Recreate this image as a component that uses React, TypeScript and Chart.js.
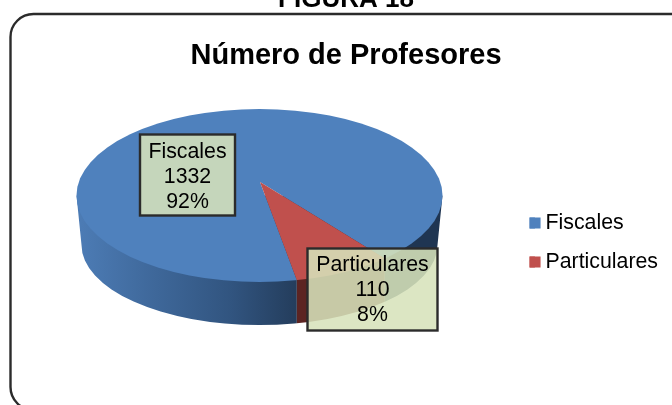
import React, { useEffect, useRef } from "react";
import { Chart, registerables } from "chart.js";

Chart.register(...registerables);

const categories = ["Fiscales", "Particulares"];
const teacherCounts = [1332, 110];
const percentLabels = ["92%", "8%"];
const sliceColors = ["#4F81BD", "#C0504D"];
const figureHeading = "FIGURA 18";
const chartTitle = "Número de Profesores";

const FONT = '"Liberation Sans", Arial, sans-serif';
const TOP = { cx: 259.5, cy: 195.5, rx: 183, ry: 86.5 };
const BASE = { cx: 259.5, cy: 245, rx: 178, ry: 80 };
const APEX = { x: 260, y: 182 };
const SQUASH = 0.47;
const LEGEND_FIRST_Y = 223;
const LEGEND_SWATCH = 11;
const LABEL_BOXES = [
  { x: 140, y: 134.5, w: 95, h: 81, first: 18 },
  { x: 307.5, y: 248.5, w: 130, h: 82, first: 17 },
];

function ellipseHit(angle: number) {
  const dx = Math.cos(angle);
  const dy = Math.sin(angle) * SQUASH;
  const ox = APEX.x - TOP.cx;
  const oy = APEX.y - TOP.cy;
  const a = (dx * dx) / (TOP.rx * TOP.rx) + (dy * dy) / (TOP.ry * TOP.ry);
  const b = 2 * ((ox * dx) / (TOP.rx * TOP.rx) + (oy * dy) / (TOP.ry * TOP.ry));
  const c = (ox * ox) / (TOP.rx * TOP.rx) + (oy * oy) / (TOP.ry * TOP.ry) - 1;
  const t = (-b + Math.sqrt(b * b - 4 * a * c)) / (2 * a);
  return APEX.x + dx * t;
}

function wallPath(ctx: CanvasRenderingContext2D) {
  ctx.beginPath();
  ctx.moveTo(TOP.cx - TOP.rx, TOP.cy);
  ctx.lineTo(BASE.cx - BASE.rx, BASE.cy);
  ctx.ellipse(BASE.cx, BASE.cy, BASE.rx, BASE.ry, 0, Math.PI, 0, true);
  ctx.lineTo(TOP.cx + TOP.rx, TOP.cy);
  ctx.closePath();
}

const piePlugin = {
  id: "tiltedPie",
  afterUpdate(chart: any) {
    const leg = chart.legend;
    const h0 = leg.legendHitBoxes[0];
    const d = LEGEND_FIRST_Y - (h0.top + h0.height / 2);
    leg.top += d;
    leg.bottom += d;
    leg.legendHitBoxes.forEach((h: any) => {
      h.top += d;
    });
  },
  beforeDraw(chart: any) {
    const { ctx } = chart;
    ctx.save();
    ctx.fillStyle = "#FFFFFF";
    ctx.fillRect(0, 0, 672, 405);
    ctx.strokeStyle = "#2B2B2B";
    ctx.lineWidth = 2.4;
    ctx.beginPath();
    ctx.roundRect(10.5, 14, 700, 396, 23);
    ctx.stroke();
    ctx.fillStyle = "#000000";
    ctx.font = `bold 26px ${FONT}`;
    ctx.textAlign = "center";
    ctx.textBaseline = "alphabetic";
    ctx.fillText(figureHeading, 346, 7);
    ctx.restore();
  },
  beforeDatasetsDraw(chart: any) {
    const { ctx } = chart;
    const arcs = chart.getDatasetMeta(0).data;
    const blueEnd = ellipseHit(arcs[1].startAngle);
    const redEnd = ellipseHit(arcs[1].endAngle);
    const left = BASE.cx - BASE.rx;
    const right = TOP.cx + TOP.rx;
    ctx.save();
    wallPath(ctx);
    ctx.clip();
    const g = ctx.createLinearGradient(left, 0, redEnd, 0);
    g.addColorStop(0, "#4C7BB4");
    g.addColorStop(0.35, "#3E6799");
    g.addColorStop(0.7, "#31547F");
    g.addColorStop(1, "#243D5C");
    ctx.fillStyle = g;
    ctx.fillRect(left - 6, TOP.cy, redEnd - left + 6, 160);
    ctx.fillStyle = "#5C2422";
    ctx.fillRect(redEnd, TOP.cy, blueEnd - redEnd, 160);
    ctx.fillStyle = "#1F3552";
    ctx.fillRect(blueEnd, TOP.cy, right - blueEnd + 2, 160);
    ctx.restore();

    ctx.save();
    ctx.beginPath();
    ctx.ellipse(TOP.cx, TOP.cy, TOP.rx, TOP.ry, 0, 0, Math.PI * 2);
    ctx.clip();
    const c = arcs[0];
    ctx.translate(APEX.x, APEX.y);
    ctx.scale(1, SQUASH);
    ctx.translate(-c.x, -c.y);
  },
  afterDatasetsDraw(chart: any) {
    const { ctx } = chart;
    ctx.restore();
    ctx.save();
    ctx.font = `21.3px ${FONT}`;
    ctx.textAlign = "center";
    ctx.textBaseline = "middle";
    LABEL_BOXES.forEach((b, i) => {
      ctx.fillStyle = "rgba(215, 226, 186, 0.87)";
      ctx.fillRect(b.x, b.y, b.w, b.h);
      ctx.strokeStyle = "#2B2B2B";
      ctx.lineWidth = 2.4;
      ctx.strokeRect(b.x, b.y, b.w, b.h);
      ctx.fillStyle = "#000000";
      const mid = b.x + b.w / 2;
      const lines = [categories[i], String(teacherCounts[i]), percentLabels[i]];
      lines.forEach((t, j) => ctx.fillText(t, mid, b.y + b.first + j * 25));
    });
    ctx.restore();
  },
  afterDraw(chart: any) {
    const { ctx } = chart;
    ctx.save();
    chart.legend.legendHitBoxes.forEach((h: any, i: number) => {
      ctx.fillStyle = sliceColors[i];
      ctx.fillRect(h.left, h.top + h.height / 2 - LEGEND_SWATCH / 2, LEGEND_SWATCH, LEGEND_SWATCH);
    });
    ctx.restore();
  },
};

export default function App() {
  const ref = useRef<HTMLCanvasElement>(null);
  useEffect(() => {
    const chart = new Chart(ref.current!, {
      type: "pie",
      data: {
        labels: categories,
        datasets: [{ data: teacherCounts, backgroundColor: sliceColors, borderWidth: 0 }],
      },
      plugins: [piePlugin],
      options: {
        animation: false,
        responsive: false,
        radius: 280,
        rotation: 170,
        layout: { padding: { left: 24, right: 4, top: 0, bottom: 54 } },
        plugins: {
          tooltip: { enabled: false },
          title: {
            display: true,
            text: chartTitle,
            color: "#000000",
            font: { family: FONT, size: 29, weight: "bold" },
            padding: { top: 39, bottom: 10 },
          },
          legend: {
            position: "right",
            labels: {
              color: "#000000",
              font: { family: FONT, size: 21.3 },
              boxWidth: 5.35,
              boxHeight: LEGEND_SWATCH,
              padding: 17.7,
            },
          },
        },
      },
    } as any);
    return () => chart.destroy();
  }, []);
  return (
    <canvas
      ref={ref}
      width={672}
      height={405}
      style={{ position: "absolute", left: 0, top: 0, width: 672, height: 405 }}
    />
  );
}
